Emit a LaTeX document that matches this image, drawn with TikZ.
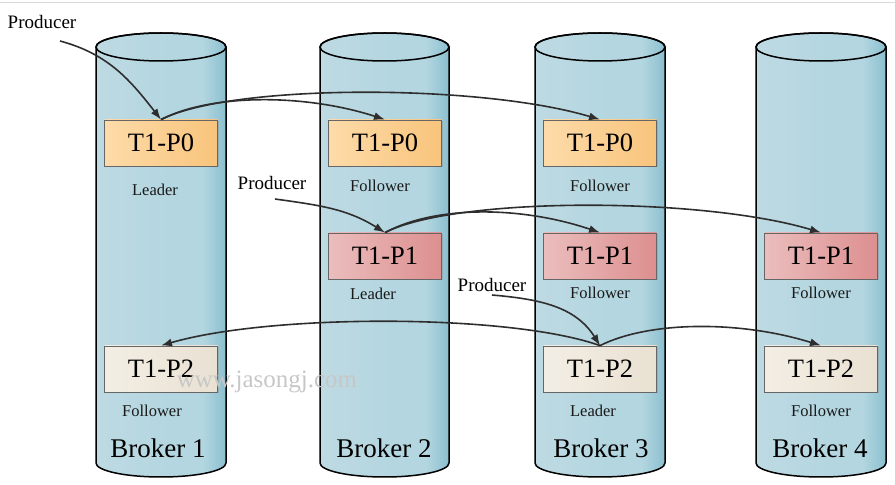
\documentclass[tikz,border=0pt]{standalone}
\usepackage{fontspec}
\setmainfont{Liberation Serif}
\usetikzlibrary{arrows.meta,shadows,calc}
\definecolor{cylL}{HTML}{BEDAE3}
\definecolor{cylM}{HTML}{B3D6E0}
\definecolor{cylR}{HTML}{8BBFCF}
\definecolor{arr}{HTML}{2E2E2E}
\definecolor{p0L}{HTML}{FDDBA9}
\definecolor{p0R}{HTML}{F8C47C}
\definecolor{p1L}{HTML}{EBBDBD}
\definecolor{p1R}{HTML}{DD8F8F}
\definecolor{p2L}{HTML}{F3EEE5}
\definecolor{p2R}{HTML}{E9E1D2}
\pgfdeclarehorizontalshading{cylshade}{100bp}{color(0bp)=(cylL); color(25bp)=(cylL); color(55bp)=(cylM); color(66bp)=(cylM); color(75bp)=(cylR); color(100bp)=(cylR)}
\tikzset{
  x=1pt, y=1pt,
  cylbody/.style={draw=black, line width=1.5pt, shading=cylshade},
  partbox/.style={draw=black!60, line width=0.8pt, minimum width=113pt, minimum height=46pt,
    inner sep=0pt, font=\fontsize{26.5}{28}\selectfont,
    drop shadow={shadow xshift=1.5pt, shadow yshift=-1.5pt, opacity=0.35}},
  pzero/.style={partbox, left color=p0L, right color=p0R},
  pone/.style={partbox, left color=p1L, right color=p1R},
  ptwo/.style={partbox, left color=p2L, right color=p2R},
  rolelbl/.style={font=\fontsize{16.5}{18}\selectfont, text=black!90},
  brokerlbl/.style={font=\fontsize{27}{29}\selectfont},
  prodlbl/.style={font=\fontsize{19}{21}\selectfont},
  link/.style={draw=arr, line width=1.6pt, -{Latex[length=11pt,width=8pt]}},
}
\newcommand{\cylinder}[2]{% left x, right x
  \pgfmathsetmacro{\cx}{(#1+#2)/2}
  \pgfmathsetmacro{\rx}{(#2-#1)/2}
  \path[cylbody] (#1,438) -- (#1,22) arc[start angle=180,end angle=360,x radius=\rx,y radius=14]
     -- (#2,438) arc[start angle=0,end angle=180,x radius=\rx,y radius=14] -- cycle;
  \draw[line width=1.5pt] (\cx,438) ellipse[x radius=\rx,y radius=14];
}
\begin{document}
\begin{tikzpicture}
\useasboundingbox (0,0) rectangle (895,485);
\draw[black!15, line width=1pt] (0,482.5) -- (895,482.5);

\cylinder{96}{226}
\cylinder{320}{449}
\cylinder{535}{665}
\cylinder{756}{886}

% partitions
\node[pzero] (b1p0) at (161,342) {T1-P0};
\node[pzero] (b2p0) at (385,342) {T1-P0};
\node[pzero] (b3p0) at (600,342) {T1-P0};
\node[pone] (b2p1) at (385,229) {T1-P1};
\node[pone] (b3p1) at (600,229) {T1-P1};
\node[pone] (b4p1) at (821,229) {T1-P1};
\node[ptwo] (b1p2) at (161,116) {T1-P2};
\node[ptwo] (b3p2) at (600,116) {T1-P2};
\node[ptwo] (b4p2) at (821,116) {T1-P2};

% role labels
\node[rolelbl] (l1) at (155,295) {Leader};
\node[rolelbl] (l2) at (380,299) {Follower};
\node[rolelbl] (l3) at (600,299) {Follower};
\node[rolelbl] (l4) at (373,191) {Leader};
\node[rolelbl] (l5) at (600,192) {Follower};
\node[rolelbl] (l6) at (821,192) {Follower};
\node[rolelbl] (l7) at (152,74) {Follower};
\node[rolelbl] (l8) at (593,74) {Leader};
\node[rolelbl] (l9) at (821,74) {Follower};

% broker labels
\node[brokerlbl] (n1) at (158,37) {Broker 1};
\node[brokerlbl] (n2) at (384,37) {Broker 2};
\node[brokerlbl] (n3) at (601,37) {Broker 3};
\node[brokerlbl] (n4) at (820,37) {Broker 4};

% producers
\node[prodlbl] (pr1) at (42,463) {Producer};
\node[prodlbl] (pr2) at (272,302) {Producer};
\node[prodlbl] (pr3) at (492,200) {Producer};
\coordinate (s1) at (60,444);
\coordinate (s2) at (275,286);
\coordinate (s3) at (492,190);

% arrows
\draw[link] (s1) to[out=-15,in=128] (b1p0.north);
\draw[link] (b1p0.north) .. controls ($(b1p0.north)+(50,26)$) and ($(b2p0.north)+(-80,26)$) .. (b2p0.north);
\draw[link] (b1p0.north) .. controls ($(b1p0.north)+(70,36)$) and ($(b3p0.north)+(-120,36)$) .. (b3p0.north);

\draw[link] (s2) to[out=-8,in=148] (b2p1.north);
\draw[link] (b2p1.north) .. controls ($(b2p1.north)+(50,27)$) and ($(b3p1.north)+(-80,27)$) .. (b3p1.north);
\draw[link] (b2p1.north) .. controls ($(b2p1.north)+(70,36)$) and ($(b4p1.north)+(-120,36)$) .. (b4p1.north);

\draw[link] (s3) to[out=-5,in=122] (b3p2.north);
\draw[link] (b3p2.north) .. controls ($(b3p2.north)+(-90,32)$) and ($(b1p2.north)+(110,32)$) .. (b1p2.north);
\draw[link] (b3p2.north) .. controls ($(b3p2.north)+(50,25)$) and ($(b4p2.north)+(-80,25)$) .. (b4p2.north);

% watermark
\node[font=\fontsize{25}{27}\selectfont, text=black!22] (wm) at (267,103) {www.jasongj.com};
\end{tikzpicture}
\end{document}
